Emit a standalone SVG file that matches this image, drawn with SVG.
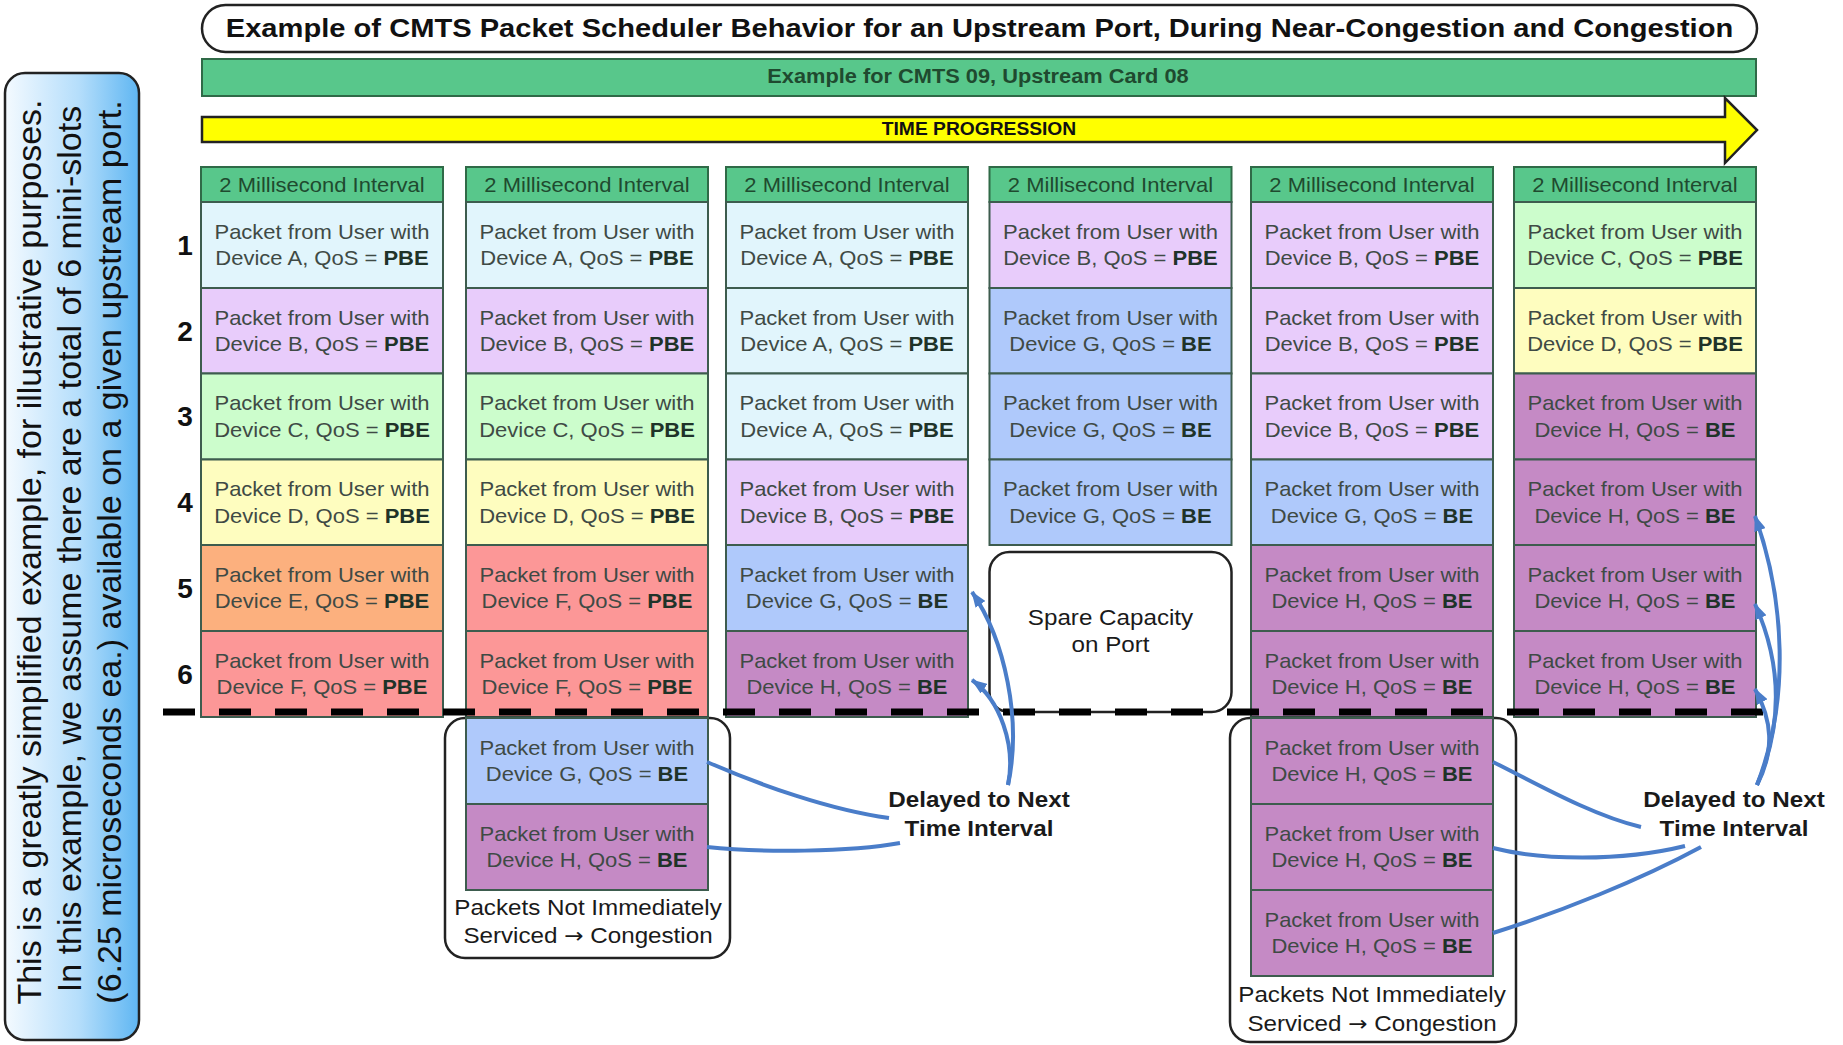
<svg xmlns="http://www.w3.org/2000/svg" width="1843" height="1045" viewBox="0 0 1843 1045">
<defs>
<style>
.cell{stroke:#3d5c4e;stroke-width:2}
.A{fill:#e1f5fc}.B{fill:#e8ccfb}.C{fill:#ccfdcc}.D{fill:#fefdbf}.E{fill:#fcb07e}.F{fill:#fc9797}.G{fill:#afc9fb}.H{fill:#c58ac5}
.hdr{fill:#58c78b;stroke:#2f6a47;stroke-width:2}
.pt{font-family:"Liberation Sans",Arial,sans-serif;font-size:20px;fill:#3f4a45;text-anchor:middle}
.b{font-weight:bold;fill:#1f3329}
.ht{font-family:"Liberation Sans",Arial,sans-serif;font-size:20px;fill:#1f4a2f;text-anchor:middle}
.lbl{font-family:"Liberation Sans",Arial,sans-serif;font-size:22px;fill:#1a1a1a;text-anchor:middle}
.lblb{font-family:"Liberation Sans",Arial,sans-serif;font-size:22px;font-weight:bold;fill:#1a1a1a;text-anchor:middle}
.arw{font-family:"DejaVu Sans",sans-serif;font-size:21px}
.num{font-family:"Liberation Sans",Arial,sans-serif;font-size:28px;font-weight:bold;fill:#111;text-anchor:middle}
.box{fill:#fff;stroke:#222;stroke-width:2.5}
.conn{fill:none;stroke:#4a7dc9;stroke-width:4}
</style>
<linearGradient id="noteGrad" x1="0" y1="0" x2="1" y2="0">
<stop offset="0" stop-color="#f4faff"/>
<stop offset="0.55" stop-color="#b5defb"/>
<stop offset="1" stop-color="#5fb6f2"/>
</linearGradient>
<marker id="ah" viewBox="0 0 16 12" markerWidth="16" markerHeight="12" refX="15" refY="6" orient="auto" markerUnits="userSpaceOnUse">
<path d="M0,0 L16,6 L0,12 z" fill="#4a7dc9"/>
</marker>
</defs>
<rect width="1843" height="1045" fill="#fff"/>

<g id="note">
<rect x="5" y="73" width="134" height="967" rx="20" fill="url(#noteGrad)" stroke="#222" stroke-width="2.5"/>
<text font-family="Liberation Sans, Arial, sans-serif" font-size="34" fill="#111" text-anchor="middle" transform="translate(41,552) rotate(-90)">This is a greatly simplified example, for illustrative purposes.</text>
<text font-family="Liberation Sans, Arial, sans-serif" font-size="34" fill="#111" text-anchor="middle" transform="translate(81,549) rotate(-90)">In this example, we assume there are a total of 6 mini-slots</text>
<text font-family="Liberation Sans, Arial, sans-serif" font-size="34" fill="#111" text-anchor="middle" transform="translate(121,552) rotate(-90)">(6.25 microseconds ea.) available on a given upstream port.</text>
</g>

<g id="title">
<rect x="202" y="5" width="1555" height="47" rx="23.5" class="box"/>
<text font-family="Liberation Sans, Arial, sans-serif" font-size="26" font-weight="bold" fill="#111" text-anchor="middle" transform="translate(979.5,37) scale(1.12,1)">Example of CMTS Packet Scheduler Behavior for an Upstream Port, During Near-Congestion and Congestion</text>
</g>

<g id="cmts-bar">
<rect x="202" y="59" width="1554" height="37" class="hdr"/>
<text font-family="Liberation Sans, Arial, sans-serif" font-size="20" font-weight="bold" fill="#1f4a2f" text-anchor="middle" transform="translate(978,83) scale(1.09,1)">Example for CMTS 09, Upstream Card 08</text>
</g>

<g id="time-arrow">
<polygon points="202,117 1725,117 1725,98 1757,130 1725,163 1725,142 202,142" fill="#ffff00" stroke="#222" stroke-width="2.5" stroke-linejoin="miter"/>
<text font-family="Liberation Sans, Arial, sans-serif" font-size="18.5" font-weight="bold" fill="#111" text-anchor="middle" transform="translate(979,135) scale(1.04,1)">TIME PROGRESSION</text>
</g>

<g id="row-numbers">
<text class="num" x="185" y="255">1</text>
<text class="num" x="185" y="341">2</text>
<text class="num" x="185" y="426">3</text>
<text class="num" x="185" y="512">4</text>
<text class="num" x="185" y="598">5</text>
<text class="num" x="185" y="684">6</text>
</g>

<!-- Column 1 -->
<g id="col1">
<rect x="201" y="167" width="242" height="35" class="hdr"/>
<text class="ht" transform="translate(322,192) scale(1.1,1)">2 Millisecond Interval</text>
<rect x="201" y="202" width="242" height="86" class="cell A"/>
<text class="pt" transform="translate(322,238.5) scale(1.1,1)"><tspan x="0" y="0">Packet from User with</tspan><tspan x="0" y="27">Device A, QoS = <tspan class="b">PBE</tspan></tspan></text>
<rect x="201" y="288" width="242" height="85.5" class="cell B"/>
<text class="pt" transform="translate(322,324.5) scale(1.1,1)"><tspan x="0" y="0">Packet from User with</tspan><tspan x="0" y="27">Device B, QoS = <tspan class="b">PBE</tspan></tspan></text>
<rect x="201" y="373.5" width="242" height="86" class="cell C"/>
<text class="pt" transform="translate(322,410) scale(1.1,1)"><tspan x="0" y="0">Packet from User with</tspan><tspan x="0" y="27">Device C, QoS = <tspan class="b">PBE</tspan></tspan></text>
<rect x="201" y="459.5" width="242" height="85.5" class="cell D"/>
<text class="pt" transform="translate(322,496) scale(1.1,1)"><tspan x="0" y="0">Packet from User with</tspan><tspan x="0" y="27">Device D, QoS = <tspan class="b">PBE</tspan></tspan></text>
<rect x="201" y="545" width="242" height="86" class="cell E"/>
<text class="pt" transform="translate(322,581.5) scale(1.1,1)"><tspan x="0" y="0">Packet from User with</tspan><tspan x="0" y="27">Device E, QoS = <tspan class="b">PBE</tspan></tspan></text>
<rect x="201" y="631" width="242" height="86" class="cell F"/>
<text class="pt" transform="translate(322,667.5) scale(1.1,1)"><tspan x="0" y="0">Packet from User with</tspan><tspan x="0" y="27">Device F, QoS = <tspan class="b">PBE</tspan></tspan></text>
</g>

<!-- Column 2 -->
<g id="col2">
<rect x="466" y="167" width="242" height="35" class="hdr"/>
<text class="ht" transform="translate(587,192) scale(1.1,1)">2 Millisecond Interval</text>
<rect x="466" y="202" width="242" height="86" class="cell A"/>
<text class="pt" transform="translate(587,238.5) scale(1.1,1)"><tspan x="0" y="0">Packet from User with</tspan><tspan x="0" y="27">Device A, QoS = <tspan class="b">PBE</tspan></tspan></text>
<rect x="466" y="288" width="242" height="85.5" class="cell B"/>
<text class="pt" transform="translate(587,324.5) scale(1.1,1)"><tspan x="0" y="0">Packet from User with</tspan><tspan x="0" y="27">Device B, QoS = <tspan class="b">PBE</tspan></tspan></text>
<rect x="466" y="373.5" width="242" height="86" class="cell C"/>
<text class="pt" transform="translate(587,410) scale(1.1,1)"><tspan x="0" y="0">Packet from User with</tspan><tspan x="0" y="27">Device C, QoS = <tspan class="b">PBE</tspan></tspan></text>
<rect x="466" y="459.5" width="242" height="85.5" class="cell D"/>
<text class="pt" transform="translate(587,496) scale(1.1,1)"><tspan x="0" y="0">Packet from User with</tspan><tspan x="0" y="27">Device D, QoS = <tspan class="b">PBE</tspan></tspan></text>
<rect x="466" y="545" width="242" height="86" class="cell F"/>
<text class="pt" transform="translate(587,581.5) scale(1.1,1)"><tspan x="0" y="0">Packet from User with</tspan><tspan x="0" y="27">Device F, QoS = <tspan class="b">PBE</tspan></tspan></text>
<rect x="466" y="631" width="242" height="86" class="cell F"/>
<text class="pt" transform="translate(587,667.5) scale(1.1,1)"><tspan x="0" y="0">Packet from User with</tspan><tspan x="0" y="27">Device F, QoS = <tspan class="b">PBE</tspan></tspan></text>
</g>

<g id="overflow2">
<rect x="445" y="718" width="285" height="240" rx="20" class="box"/>
<rect x="466" y="718" width="242" height="86" class="cell G"/>
<text class="pt" transform="translate(587,754.5) scale(1.1,1)"><tspan x="0" y="0">Packet from User with</tspan><tspan x="0" y="27">Device G, QoS = <tspan class="b">BE</tspan></tspan></text>
<rect x="466" y="804" width="242" height="86" class="cell H"/>
<text class="pt" transform="translate(587,840.5) scale(1.1,1)"><tspan x="0" y="0">Packet from User with</tspan><tspan x="0" y="27">Device H, QoS = <tspan class="b">BE</tspan></tspan></text>
<text class="lbl" transform="translate(588,915) scale(1.1,1)"><tspan x="0" y="0">Packets Not Immediately</tspan><tspan x="0" y="28">Serviced <tspan class="arw">→</tspan> Congestion</tspan></text>
</g>

<!-- Column 3 -->
<g id="col3">
<rect x="726" y="167" width="242" height="35" class="hdr"/>
<text class="ht" transform="translate(847,192) scale(1.1,1)">2 Millisecond Interval</text>
<rect x="726" y="202" width="242" height="86" class="cell A"/>
<text class="pt" transform="translate(847,238.5) scale(1.1,1)"><tspan x="0" y="0">Packet from User with</tspan><tspan x="0" y="27">Device A, QoS = <tspan class="b">PBE</tspan></tspan></text>
<rect x="726" y="288" width="242" height="85.5" class="cell A"/>
<text class="pt" transform="translate(847,324.5) scale(1.1,1)"><tspan x="0" y="0">Packet from User with</tspan><tspan x="0" y="27">Device A, QoS = <tspan class="b">PBE</tspan></tspan></text>
<rect x="726" y="373.5" width="242" height="86" class="cell A"/>
<text class="pt" transform="translate(847,410) scale(1.1,1)"><tspan x="0" y="0">Packet from User with</tspan><tspan x="0" y="27">Device A, QoS = <tspan class="b">PBE</tspan></tspan></text>
<rect x="726" y="459.5" width="242" height="85.5" class="cell B"/>
<text class="pt" transform="translate(847,496) scale(1.1,1)"><tspan x="0" y="0">Packet from User with</tspan><tspan x="0" y="27">Device B, QoS = <tspan class="b">PBE</tspan></tspan></text>
<rect x="726" y="545" width="242" height="86" class="cell G"/>
<text class="pt" transform="translate(847,581.5) scale(1.1,1)"><tspan x="0" y="0">Packet from User with</tspan><tspan x="0" y="27">Device G, QoS = <tspan class="b">BE</tspan></tspan></text>
<rect x="726" y="631" width="242" height="86" class="cell H"/>
<text class="pt" transform="translate(847,667.5) scale(1.1,1)"><tspan x="0" y="0">Packet from User with</tspan><tspan x="0" y="27">Device H, QoS = <tspan class="b">BE</tspan></tspan></text>
</g>

<!-- Column 4 -->
<g id="col4">
<rect x="989.5" y="167" width="242" height="35" class="hdr"/>
<text class="ht" transform="translate(1110.5,192) scale(1.1,1)">2 Millisecond Interval</text>
<rect x="989.5" y="202" width="242" height="86" class="cell B"/>
<text class="pt" transform="translate(1110.5,238.5) scale(1.1,1)"><tspan x="0" y="0">Packet from User with</tspan><tspan x="0" y="27">Device B, QoS = <tspan class="b">PBE</tspan></tspan></text>
<rect x="989.5" y="288" width="242" height="85.5" class="cell G"/>
<text class="pt" transform="translate(1110.5,324.5) scale(1.1,1)"><tspan x="0" y="0">Packet from User with</tspan><tspan x="0" y="27">Device G, QoS = <tspan class="b">BE</tspan></tspan></text>
<rect x="989.5" y="373.5" width="242" height="86" class="cell G"/>
<text class="pt" transform="translate(1110.5,410) scale(1.1,1)"><tspan x="0" y="0">Packet from User with</tspan><tspan x="0" y="27">Device G, QoS = <tspan class="b">BE</tspan></tspan></text>
<rect x="989.5" y="459.5" width="242" height="85.5" class="cell G"/>
<text class="pt" transform="translate(1110.5,496) scale(1.1,1)"><tspan x="0" y="0">Packet from User with</tspan><tspan x="0" y="27">Device G, QoS = <tspan class="b">BE</tspan></tspan></text>
</g>

<g id="spare">
<rect x="989.5" y="552" width="242" height="160" rx="20" class="box"/>
<text class="lbl" transform="translate(1110.5,625) scale(1.1,1)"><tspan x="0" y="0">Spare Capacity</tspan><tspan x="0" y="27">on Port</tspan></text>
</g>

<!-- Column 5 -->
<g id="col5">
<rect x="1251" y="167" width="242" height="35" class="hdr"/>
<text class="ht" transform="translate(1372,192) scale(1.1,1)">2 Millisecond Interval</text>
<rect x="1251" y="202" width="242" height="86" class="cell B"/>
<text class="pt" transform="translate(1372,238.5) scale(1.1,1)"><tspan x="0" y="0">Packet from User with</tspan><tspan x="0" y="27">Device B, QoS = <tspan class="b">PBE</tspan></tspan></text>
<rect x="1251" y="288" width="242" height="85.5" class="cell B"/>
<text class="pt" transform="translate(1372,324.5) scale(1.1,1)"><tspan x="0" y="0">Packet from User with</tspan><tspan x="0" y="27">Device B, QoS = <tspan class="b">PBE</tspan></tspan></text>
<rect x="1251" y="373.5" width="242" height="86" class="cell B"/>
<text class="pt" transform="translate(1372,410) scale(1.1,1)"><tspan x="0" y="0">Packet from User with</tspan><tspan x="0" y="27">Device B, QoS = <tspan class="b">PBE</tspan></tspan></text>
<rect x="1251" y="459.5" width="242" height="85.5" class="cell G"/>
<text class="pt" transform="translate(1372,496) scale(1.1,1)"><tspan x="0" y="0">Packet from User with</tspan><tspan x="0" y="27">Device G, QoS = <tspan class="b">BE</tspan></tspan></text>
<rect x="1251" y="545" width="242" height="86" class="cell H"/>
<text class="pt" transform="translate(1372,581.5) scale(1.1,1)"><tspan x="0" y="0">Packet from User with</tspan><tspan x="0" y="27">Device H, QoS = <tspan class="b">BE</tspan></tspan></text>
<rect x="1251" y="631" width="242" height="86" class="cell H"/>
<text class="pt" transform="translate(1372,667.5) scale(1.1,1)"><tspan x="0" y="0">Packet from User with</tspan><tspan x="0" y="27">Device H, QoS = <tspan class="b">BE</tspan></tspan></text>
</g>

<g id="overflow5">
<rect x="1230" y="718" width="286" height="324" rx="20" class="box"/>
<rect x="1251" y="718" width="242" height="86" class="cell H"/>
<text class="pt" transform="translate(1372,754.5) scale(1.1,1)"><tspan x="0" y="0">Packet from User with</tspan><tspan x="0" y="27">Device H, QoS = <tspan class="b">BE</tspan></tspan></text>
<rect x="1251" y="804" width="242" height="86" class="cell H"/>
<text class="pt" transform="translate(1372,840.5) scale(1.1,1)"><tspan x="0" y="0">Packet from User with</tspan><tspan x="0" y="27">Device H, QoS = <tspan class="b">BE</tspan></tspan></text>
<rect x="1251" y="890" width="242" height="86" class="cell H"/>
<text class="pt" transform="translate(1372,926.5) scale(1.1,1)"><tspan x="0" y="0">Packet from User with</tspan><tspan x="0" y="27">Device H, QoS = <tspan class="b">BE</tspan></tspan></text>
<text class="lbl" transform="translate(1372,1002) scale(1.1,1)"><tspan x="0" y="0">Packets Not Immediately</tspan><tspan x="0" y="29">Serviced <tspan class="arw">→</tspan> Congestion</tspan></text>
</g>

<!-- Column 6 -->
<g id="col6">
<rect x="1514" y="167" width="242" height="35" class="hdr"/>
<text class="ht" transform="translate(1635,192) scale(1.1,1)">2 Millisecond Interval</text>
<rect x="1514" y="202" width="242" height="86" class="cell C"/>
<text class="pt" transform="translate(1635,238.5) scale(1.1,1)"><tspan x="0" y="0">Packet from User with</tspan><tspan x="0" y="27">Device C, QoS = <tspan class="b">PBE</tspan></tspan></text>
<rect x="1514" y="288" width="242" height="85.5" class="cell D"/>
<text class="pt" transform="translate(1635,324.5) scale(1.1,1)"><tspan x="0" y="0">Packet from User with</tspan><tspan x="0" y="27">Device D, QoS = <tspan class="b">PBE</tspan></tspan></text>
<rect x="1514" y="373.5" width="242" height="86" class="cell H"/>
<text class="pt" transform="translate(1635,410) scale(1.1,1)"><tspan x="0" y="0">Packet from User with</tspan><tspan x="0" y="27">Device H, QoS = <tspan class="b">BE</tspan></tspan></text>
<rect x="1514" y="459.5" width="242" height="85.5" class="cell H"/>
<text class="pt" transform="translate(1635,496) scale(1.1,1)"><tspan x="0" y="0">Packet from User with</tspan><tspan x="0" y="27">Device H, QoS = <tspan class="b">BE</tspan></tspan></text>
<rect x="1514" y="545" width="242" height="86" class="cell H"/>
<text class="pt" transform="translate(1635,581.5) scale(1.1,1)"><tspan x="0" y="0">Packet from User with</tspan><tspan x="0" y="27">Device H, QoS = <tspan class="b">BE</tspan></tspan></text>
<rect x="1514" y="631" width="242" height="86" class="cell H"/>
<text class="pt" transform="translate(1635,667.5) scale(1.1,1)"><tspan x="0" y="0">Packet from User with</tspan><tspan x="0" y="27">Device H, QoS = <tspan class="b">BE</tspan></tspan></text>
</g>

<g id="capacity-line">
<line x1="163" y1="712" x2="1763" y2="712" stroke="#000" stroke-width="7" stroke-dasharray="32 24"/>
</g>

<g id="delay-label-left">
<text class="lblb" transform="translate(979,807) scale(1.1,1)"><tspan x="0" y="0">Delayed to Next</tspan><tspan x="0" y="29">Time Interval</tspan></text>
</g>
<g id="delay-label-right">
<text class="lblb" transform="translate(1734,807) scale(1.1,1)"><tspan x="0" y="0">Delayed to Next</tspan><tspan x="0" y="29">Time Interval</tspan></text>
</g>

<g id="connectors">
<path class="conn" d="M707,762 C760,785 830,810 889,818"/>
<path class="conn" d="M707,847 C760,853 850,852 900,843"/>
<path class="conn" d="M1008,785 C1022,720 1005,640 972,592" marker-end="url(#ah)"/>
<path class="conn" d="M1008,785 C1016,745 1000,700 972,680" marker-end="url(#ah)"/>
<path class="conn" d="M1493,762 C1530,780 1590,815 1641,827"/>
<path class="conn" d="M1493,848 C1540,860 1620,862 1685,846"/>
<path class="conn" d="M1493,933 C1560,912 1640,880 1701,847"/>
<path class="conn" d="M1757,785 C1790,700 1785,600 1755,516" marker-end="url(#ah)"/>
<path class="conn" d="M1757,785 C1785,720 1780,660 1755,604" marker-end="url(#ah)"/>
<path class="conn" d="M1757,785 C1775,750 1772,720 1755,689" marker-end="url(#ah)"/>
</g>
</svg>
